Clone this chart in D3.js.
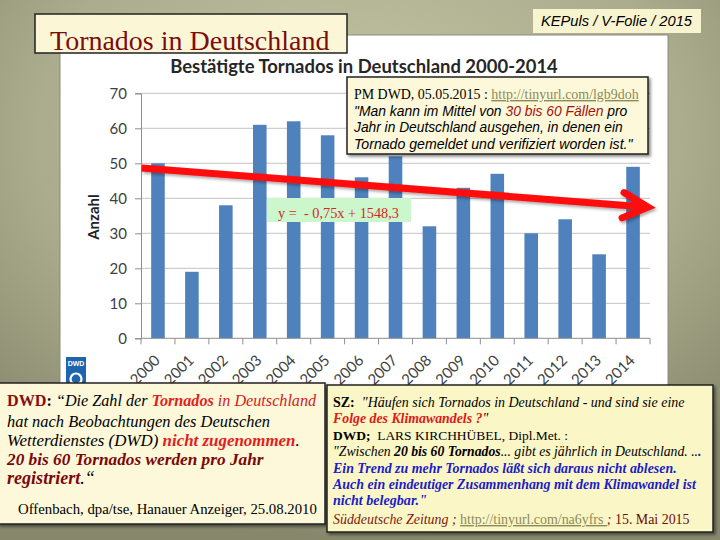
<!DOCTYPE html>
<html><head><meta charset="utf-8">
<script src="https://cdn.jsdelivr.net/npm/d3@7"></script>
<style>html,body{margin:0;padding:0;overflow:hidden;background:#a9aa8b} text{white-space:pre}</style>
</head><body>
<script>
// ---------- data ----------
const years = ["2000","2001","2002","2003","2004","2005","2006","2007","2008","2009","2010","2011","2012","2013","2014"];
const counts = [50,19,38,61,62,58,46,52,32,43,47,30,34,24,49];
const yTicks = [0,10,20,30,40,50,60,70];
const trendCoef = [-0.75, 1548.3];   // slope, intercept
const trendLabel = "y =  - 0,75x + 1548,3";
const chartTitle = "Bestätigte Tornados in Deutschland 2000-2014";
const yAxisTitle = "Anzahl";
const slideTitle = "Tornados in Deutschland";
const tagText = "KEPuls / V-Folie / 2015";

const W = 720, H = 540;
const svg = d3.select("body").append("svg").attr("width", W).attr("height", H);
const defs = svg.append("defs");
const rg = defs.append("radialGradient").attr("id","bg").attr("cx","50%").attr("cy","25%").attr("r","75%");
rg.append("stop").attr("offset","0%").attr("stop-color","#c4c5a5");
rg.append("stop").attr("offset","60%").attr("stop-color","#abac8d");
rg.append("stop").attr("offset","100%").attr("stop-color","#86876b");
const sh = defs.append("filter").attr("id","sh").attr("x","-10%").attr("y","-10%").attr("width","130%").attr("height","140%");
sh.append("feDropShadow").attr("dx",2).attr("dy",2).attr("stdDeviation",1.5).attr("flood-color","#000").attr("flood-opacity",0.45);
const sh2 = defs.append("filter").attr("id","sh2").attr("x","-10%").attr("y","-50%").attr("width","120%").attr("height","200%");
sh2.append("feDropShadow").attr("dx",1.5).attr("dy",2).attr("stdDeviation",1.5).attr("flood-color","#000").attr("flood-opacity",0.35);

svg.append("rect").attr("width",W).attr("height",H).attr("fill","url(#bg)");

// white chart panel
svg.append("rect").attr("x",60).attr("y",35).attr("width",608).attr("height",355)
  .attr("fill","#fff").attr("stroke","#8c8c7a").attr("stroke-width",1);

function fit(sel, target){
  const w = sel.node().getBBox().width;
  const fs = parseFloat(sel.attr("font-size"));
  sel.attr("font-size", fs*target/w);
}
function line(g, x, y, segs, family, size, target){
  const t = g.append("text").attr("x",x).attr("y",y).attr("font-family",family).attr("font-size",size)
    .attr("xml:space","preserve");
  segs.forEach(s=>{
    const ts = t.append("tspan").text(s.t)
      .attr("font-weight", s.b ? "bold" : "normal")
      .attr("font-style", s.i ? "italic" : "normal")
      .attr("fill", s.c || "#000");
    if (s.u) ts.attr("text-decoration","underline");
  });
  if (target) fit(t, target);
  return t;
}

// tag box
svg.append("rect").attr("x",533).attr("y",9).attr("width",168).attr("height",24).attr("fill","#f8f4cf");
line(svg, 541, 26, [{t:tagText,i:true}], "Liberation Sans", 13, 152);

// ---------- chart ----------
const x = d3.scaleBand().domain(years).range([141,650]).paddingInner(0.6).paddingOuter(0.3);
const xLin = d3.scaleLinear().domain([1999.5,2014.5]).range([141,650]);
const y = d3.scaleLinear().domain([0,70]).range([338.3,93.3]);

// gridlines
svg.append("g").selectAll("line").data(yTicks.slice(1)).join("line")
  .attr("x1",141).attr("x2",650).attr("y1",d=>y(d)).attr("y2",d=>y(d))
  .attr("stroke","#c4c4c4").attr("stroke-width",1);

// y axis
const yAx = svg.append("g").attr("transform","translate(141,0)")
  .call(d3.axisLeft(y).tickValues(yTicks).tickSize(6).tickPadding(8));
yAx.selectAll("path,line").attr("stroke","#8e8e8e");
yAx.selectAll("text").attr("font-family","Lato").attr("font-size",15).attr("fill","#404040");

// bars
svg.append("g").selectAll("rect").data(counts).join("rect")
  .attr("x",(d,i)=>x(years[i])).attr("width",x.bandwidth())
  .attr("y",d=>y(d)).attr("height",d=>y(0)-y(d)).attr("fill","#4f81bd");

// x axis
const xAx = svg.append("g").attr("transform",`translate(0,${y(0)})`);
xAx.append("line").attr("x1",141).attr("x2",650).attr("stroke","#8e8e8e");
const bounds = years.map((d,i)=>x(d) - x.step()*x.paddingInner()/2).concat([650]);
xAx.selectAll("line.tk").data(bounds).join("line").attr("class","tk")
  .attr("x1",d=>d).attr("x2",d=>d).attr("y1",0).attr("y2",6).attr("stroke","#8e8e8e");
xAx.selectAll("text").data(years).join("text")
  .attr("transform",d=>`translate(${x(d)+x.bandwidth()/2+3},23) rotate(-45)`)
  .attr("text-anchor","end").attr("font-family","Lato").attr("font-size",15).attr("fill","#404040")
  .text(d=>d);

// y title
svg.append("text").attr("transform","translate(99,217) rotate(-90)").attr("text-anchor","middle")
  .attr("font-family","Lato").attr("font-weight","bold").attr("font-size",15).attr("fill","#222")
  .text(yAxisTitle);

// chart title
const ct = svg.append("text").attr("x",364).attr("y",73).attr("text-anchor","middle")
  .attr("font-family","Lato").attr("font-weight","bold").attr("font-size",18).attr("fill","#262626")
  .text(chartTitle);
fit(ct, 388);

// trend label
svg.append("rect").attr("x",267).attr("y",198).attr("width",144).attr("height",24).attr("fill","#ccf6cc");
line(svg, 278, 218, [{t:trendLabel,c:"#d42a1e"}], "Liberation Serif", 15, 121);

// trend arrow
const tv = yr => trendCoef[0]*yr + trendCoef[1];
const x0 = 1999.52, x1 = 2014.44;
const p0 = [xLin(x0), y(tv(x0))], p1 = [xLin(x1), y(tv(x1))];
const ang = Math.atan2(p1[1]-p0[1], p1[0]-p0[0]);
const armL = 28, armA = 0.47;
const a1 = [p1[0]-armL*Math.cos(ang-armA), p1[1]-armL*Math.sin(ang-armA)];
const a2 = [p1[0]-armL*Math.cos(ang+armA), p1[1]-armL*Math.sin(ang+armA)];
const ag = svg.append("g").attr("filter","url(#sh2)");
ag.append("path").attr("d", d3.line()([p0, [p1[0]-3*Math.cos(ang), p1[1]-3*Math.sin(ang)]]))
  .attr("stroke","#ff0a0a").attr("stroke-width",7).attr("fill","none").attr("stroke-linecap","butt");
ag.append("path").attr("d", d3.line()([a1, p1, a2]))
  .attr("stroke","#ff0a0a").attr("stroke-width",7).attr("fill","none")
  .attr("stroke-linecap","round").attr("stroke-linejoin","miter");

// DWD logo
const lg = svg.append("g");
lg.append("rect").attr("x",66).attr("y",357).attr("width",20).attr("height",30).attr("fill","#1f64ae");
lg.append("text").attr("x",76).attr("y",366).attr("text-anchor","middle").attr("font-family","Liberation Sans")
  .attr("font-weight","bold").attr("font-size",7).attr("fill","#fff").text("DWD");
lg.append("circle").attr("cx",76).attr("cy",379).attr("r",5.5).attr("fill","none").attr("stroke","#fff").attr("stroke-width",2.2);

// slide title box
svg.append("rect").attr("x",35).attr("y",14).attr("width",312).attr("height",39)
  .attr("fill","#fbf7d6").attr("stroke","#222").attr("stroke-width",1.5);
line(svg, 50, 50, [{t:slideTitle,c:"#7b0d0d"}], "Liberation Serif", 27, 280);

// PM DWD box
const pg = svg.append("g");
pg.append("rect").attr("x",347).attr("y",77).attr("width",301).attr("height",77)
  .attr("fill","#fcf8d9").attr("stroke","#222").attr("stroke-width",1.5).attr("filter","url(#sh)");
line(pg, 354, 99, [{t:"PM DWD, 05.05.2015 : "},{t:"http://tinyurl.com/lgb9doh",c:"#8c8b58",u:true}], "Liberation Serif", 14, 285);
line(pg, 354, 115.5, [{t:"\"Man kann im Mittel von ",i:true},{t:"30 bis 60 Fällen",i:true,c:"#a3120f"},{t:" pro",i:true}], "Liberation Sans", 14, 274);
line(pg, 354, 132, [{t:"Jahr in Deutschland ausgehen, in denen ein",i:true}], "Liberation Sans", 14, 270);
line(pg, 354, 148.5, [{t:"Tornado gemeldet und verifiziert worden ist.\"",i:true}], "Liberation Sans", 14, 280);

// bottom-left box
const bl = svg.append("g");
bl.append("rect").attr("x",-2).attr("y",383).attr("width",327).attr("height",141)
  .attr("fill","#fcf8d9").attr("stroke","#222").attr("stroke-width",1.5).attr("filter","url(#sh)");
const SF = "Liberation Serif";
line(bl, 7, 406, [{t:"DWD",b:true,c:"#8a0c0c"},{t:": ",b:true},{t:"“Die Zahl der ",i:true},{t:"Tornados",b:true,i:true,c:"#e41d1d"},{t:" in Deutschland",i:true,c:"#d42020"}], SF, 17, 310);
line(bl, 7, 426.5, [{t:"hat nach Beobachtungen des Deutschen",i:true}], SF, 17, 263);
line(bl, 7, 446, [{t:"Wetterdienstes (DWD) ",i:true},{t:"nicht zugenommen",b:true,i:true,c:"#e41d1d"},{t:".",i:true}], SF, 17, 293);
line(bl, 7, 465, [{t:"20 bis 60 Tornados werden pro Jahr",b:true,i:true,c:"#7a0808"}], SF, 17, 258);
line(bl, 7, 483.5, [{t:"registriert",b:true,i:true,c:"#7a0808"},{t:".“",i:true}], SF, 17, 88);
line(bl, 18, 514, [{t:"Offenbach, dpa/tse, Hanauer Anzeiger, 25.08.2010"}], SF, 15, 299);

// bottom-right box
const br = svg.append("g");
br.append("rect").attr("x",327).attr("y",385).attr("width",386).attr("height",147)
  .attr("fill","#fbf6c6").attr("stroke","#222").attr("stroke-width",1.5).attr("filter","url(#sh)");
const BLUE = "#1c1cc8";
line(br, 333, 406.5, [{t:"SZ:",b:true},{t:"  \"Häufen sich Tornados in Deutschland - und sind sie eine",i:true}], SF, 15, 352);
line(br, 333, 423, [{t:"Folge des Klimawandels ?",b:true,i:true,c:"#e01818"},{t:"\"",i:true}], SF, 15, 157);
line(br, 333, 439.5, [{t:"DWD;",b:true},{t:"  LARS KIRCHHÜBEL, Dipl.Met. :"}], SF, 15, 235);
line(br, 333, 456, [{t:"\"Zwischen ",i:true},{t:"20 bis 60 Tornados",b:true,i:true},{t:"... gibt es jährlich in Deutschland. ..",i:true},{t:".",b:true,i:true,c:BLUE}], SF, 15, 369);
line(br, 333, 472.5, [{t:"Ein Trend zu mehr Tornados läßt sich daraus nicht ablesen.",b:true,i:true,c:BLUE}], SF, 15, 345);
line(br, 333, 489, [{t:"Auch ein eindeutiger Zusammenhang mit dem Klimawandel ist",b:true,i:true,c:BLUE}], SF, 15, 365);
line(br, 333, 505, [{t:"nicht belegbar.\"",b:true,i:true,c:BLUE}], SF, 15, 94);
line(br, 333, 524, [{t:"Süddeutsche Zeitung ; ",i:true,c:"#7a1a12"},{t:"http://tinyurl.com/na6yfrs ",c:"#8c8b58",u:true},{t:"; ",i:true,c:"#7a1a12"},{t:"15. Mai 2015",c:"#6a0c0c"}], SF, 15, 357);
</script>
</body></html>
